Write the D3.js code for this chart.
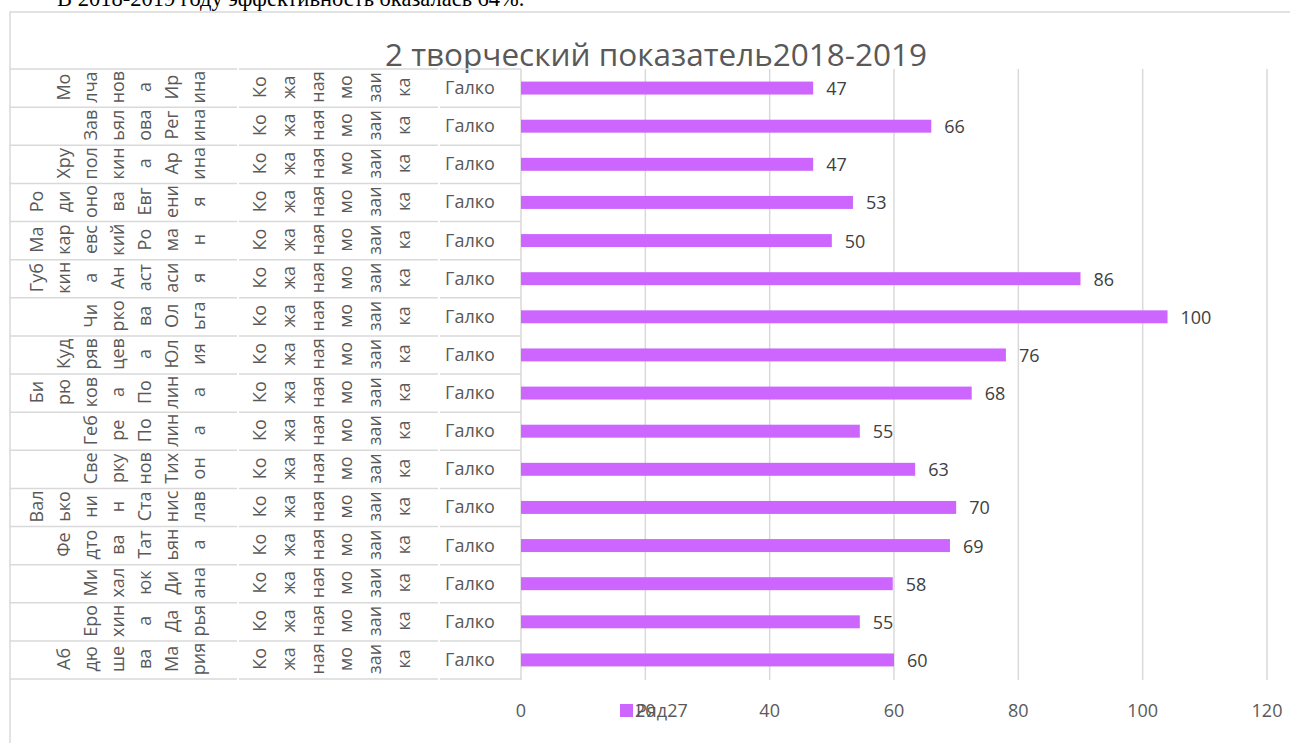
<!DOCTYPE html>
<html><head><meta charset="utf-8">
<script src="https://cdn.jsdelivr.net/npm/d3@7/dist/d3.min.js"></script>
<style>html,body{margin:0;padding:0;background:#fff;overflow:hidden}</style>
</head><body>
<svg id="chart" width="1290" height="743"></svg>
<script>
// ---- data ----
const nameLines = [
  ["Мо","лча","нов","а","Ир","ина"],
  ["Зав","ьял","ова","Рег","ина"],
  ["Хру","пол","кин","а","Ар","ина"],
  ["Ро","ди","оно","ва","Евг","ени","я"],
  ["Ма","кар","евс","кий","Ро","ма","н"],
  ["Губ","кин","а","Ан","аст","аси","я"],
  ["Чи","рко","ва","Ол","ьга"],
  ["Куд","ряв","цев","а","Юл","ия"],
  ["Би","рю","ков","а","По","лин","а"],
  ["Геб","ре","По","лин","а"],
  ["Све","рку","нов","Тих","он"],
  ["Вал","ько","ни","н","Ста","нис","лав"],
  ["Фе","дто","ва","Тат","ьян","а"],
  ["Ми","хал","юк","Ди","ана"],
  ["Еро","хин","а","Да","рья"],
  ["Аб","дю","ше","ва","Ма","рия"]
];
const groupLines = ["Ко","жа","ная","мо","заи","ка"];
const teacher = "Галко";
const labels = [47,66,47,53,50,86,100,76,68,55,63,70,69,58,55,60];
const values = [47,66,47,53.4,50,90,104,78,72.5,54.5,63.4,70,69,59.8,54.5,60];
const xTicks = [0,20,40,60,80,100,120];
const title = "2 творческий показатель2018-2019";
const seriesName = "Ряд27";
const headText = "В 2018-2019 году эффективность оказалась 64%.";

// ---- layout ----
const svg = d3.select("#chart");
const grey = "#d9d9d9", txt = "#595959", barColor = "#cc66ff";
const font = "'Open Sans', sans-serif";
const idx = d3.range(values.length);

const x = d3.scaleLinear().domain([0,120]).range([521,1267]);
const y = d3.scaleBand().domain(idx).range([69,679]).paddingInner(0.66).paddingOuter(0.33);
const step = y.step();
const rowTop = i => 69 + i*step;

// header text (cut off)
svg.append("text").attr("x",57).attr("y",6)
  .attr("font-family","'Liberation Serif','Times New Roman',serif").attr("font-size",22.5)
  .attr("fill","#000").text(headText);

// chart border
svg.append("path").attr("d","M10,1290 L10,12 L1300,12").attr("fill","none")
  .attr("stroke",grey).attr("stroke-width",1.5);

// title
svg.append("text").attr("x",656).attr("y",66).attr("text-anchor","middle")
  .attr("font-family",font).attr("font-size",31.5).attr("fill",txt).text(title);

// gridlines
svg.append("g").selectAll("line").data(xTicks.slice(1)).join("line")
  .attr("x1",d=>x(d)).attr("x2",d=>x(d)).attr("y1",69).attr("y2",680)
  .attr("stroke",grey).attr("stroke-width",1.5);
// category axis line
svg.append("line").attr("x1",x(0)).attr("x2",x(0)).attr("y1",69).attr("y2",680)
  .attr("stroke",grey).attr("stroke-width",1.5);

// row separators per level
const segs = [[10,237],[239,438],[440,521]];
const gRows = svg.append("g");
d3.range(values.length+1).forEach(i=>{
  segs.forEach(s=>{
    gRows.append("line").attr("x1",s[0]).attr("x2",s[1])
      .attr("y1",rowTop(i)).attr("y2",rowTop(i)).attr("stroke",grey).attr("stroke-width",1.5);
  });
});

// bars
svg.append("g").selectAll("rect").data(idx).join("rect")
  .attr("x",x(0)).attr("y",i=>y(i)).attr("width",i=>x(values[i])-x(0))
  .attr("height",y.bandwidth()).attr("fill",barColor);

// value labels
svg.append("g").selectAll("text").data(idx).join("text")
  .attr("x",i=>x(values[i])+13).attr("y",i=>y(i)+y.bandwidth()/2)
  .attr("dominant-baseline","central").attr("font-family",font).attr("font-size",18)
  .attr("fill","#404040").text(i=>labels[i]);

// category labels
const gCat = svg.append("g").attr("font-family",font).attr("font-size",18).attr("fill",txt);
idx.forEach(i=>{
  const cy = y(i)+y.bandwidth()/2 - 1;
  gCat.append("text").attr("x",470).attr("y",cy).attr("text-anchor","middle")
    .attr("dominant-baseline","central").text(teacher);
  const gl = groupLines.length;
  groupLines.forEach((p,j)=>{
    const cx = 403 - (gl-1-j)*28.8;
    gCat.append("text").attr("transform",`translate(${cx},${cy}) rotate(-90)`)
      .attr("text-anchor","middle").attr("dominant-baseline","central").text(p);
  });
  const nl = nameLines[i].length;
  nameLines[i].forEach((p,j)=>{
    const cx = 198 - (nl-1-j)*27;
    gCat.append("text").attr("transform",`translate(${cx},${cy}) rotate(-90)`)
      .attr("text-anchor","middle").attr("dominant-baseline","central").text(p);
  });
});

// x tick labels
svg.append("g").selectAll("text").data(xTicks).join("text")
  .attr("x",d=>x(d)).attr("y",710).attr("text-anchor","middle").attr("dominant-baseline","central")
  .attr("font-family",font).attr("font-size",18).attr("fill",txt).text(d=>d);

// legend
svg.append("rect").attr("x",620).attr("y",704).attr("width",13).attr("height",13).attr("fill",barColor);
svg.append("text").attr("x",636).attr("y",710).attr("dominant-baseline","central")
  .attr("font-family",font).attr("font-size",18).attr("fill",txt).text(seriesName);
</script>
</body></html>
